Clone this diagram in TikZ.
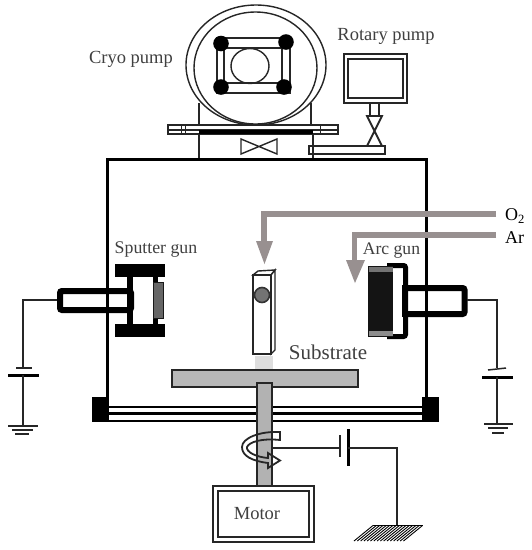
\documentclass[tikz,border=0pt]{standalone}
\usepackage{fontspec}
\setmainfont{Liberation Serif}
\tikzset{
  lbl/.style={text=black!75,inner sep=0pt,font=\fontsize{18.5}{20}\selectfont},
  gaslbl/.style={text=black,inner sep=0pt,font=\fontsize{18}{20}\selectfont,anchor=west},
  thinl/.style={draw=black!85,line width=1.4pt},
  wire/.style={draw=black!85,line width=1.3pt},
  wall/.style={draw=black,line width=3pt},
  gas/.style={draw=gasc,line width=5.5pt},
  gashead/.style={fill=gasc,draw=none},
  plate/.style={draw=black,line width=3pt},
  plthin/.style={draw=black!85,line width=1.5pt},
}
\definecolor{gasc}{HTML}{989090}
\begin{document}
\begin{tikzpicture}[x=1pt,y=-1pt]
\useasboundingbox[fill=white] (0,0) rectangle (532,550);

% --- pumps top
\draw[thinl] (199,103) -- (199,125);
\draw[thinl] (311,103) -- (311,125);
\draw[thinl,fill=white] (256,65) ellipse [x radius=70,y radius=60];
\draw[thinl] (255.5,68) ellipse [x radius=61.5,y radius=56];
\draw[thinl,line width=1.6pt] (217,38) rectangle (290,93);
\draw[thinl,line width=1.6pt] (224,48) rectangle (282,83);
\draw[thinl] (250,66) ellipse [x radius=19,y radius=17.5];
\fill[black] (221,43.5) circle [radius=7.8];
\fill[black] (286,42) circle [radius=7.8];
\fill[black] (221,87) circle [radius=7.8];
\fill[black] (284,87) circle [radius=7.8];

% flange
\draw[thinl,fill=white] (168,125) rectangle (338,134);
\draw[thinl,line width=1.1pt] (168,130) -- (338,130);
\draw[thinl,line width=1pt] (181,125) -- (181,134) (185,125) -- (185,134) (320,125) -- (320,134);
\fill[black] (199,130) rectangle (313,134);
\draw[thinl] (199,134) -- (199,161);
\draw[thinl] (313,134) -- (313,161);
\draw[thinl] (241,139) -- (277,154) -- (277,139) -- (241,154) -- cycle;

% rotary pump
\draw[thinl,line width=1.6pt] (344,54) rectangle (407,103);
\draw[thinl,line width=1.6pt] (348,59) rectangle (403,98);
\draw[thinl,line width=1.6pt] (370,103) rectangle (379,116);
\draw[thinl,line width=1.8pt] (367,116) -- (382,116) -- (367,146) -- (382,146) -- cycle;
\draw[thinl] (309,146) rectangle (385,154);

% --- chamber
\draw[wall] (107,397) -- (107,159) -- (426,159) -- (426,397);
\draw[black,line width=2.6pt] (107,407) -- (424,407);
\draw[black,line width=2.6pt] (107,413.5) -- (424,413.5);
\draw[black,line width=1.4pt] (107,421) -- (424,421);
\fill[black] (92,397) rectangle (109,421.5);
\fill[black] (422,397) rectangle (439,421.5);

% --- sputter gun
\fill[black] (115,264) rectangle (165,277);
\fill[black] (115,324) rectangle (165,337);
\fill[black] (127,277) rectangle (133,324);
\fill[black] (153,277) rectangle (158,283);
\fill[black] (153,318) rectangle (158,324);
\draw[draw=black!90,fill=black!60,line width=1pt] (153,282) rectangle (163,318);
\draw[black,line width=6pt,rounded corners=2pt] (60,291) -- (131,291) -- (131,310) -- (60,310) -- cycle;
\draw[wire] (57,300) -- (23,300) -- (23,367);
\draw[plthin] (16,368) -- (32,368);
\draw[plate] (8,375) -- (39,375);
\draw[wire] (23,375) -- (23,426);
\draw[plthin] (8,426) -- (38,426);
\draw[plthin] (12,430) -- (33,430);
\draw[plthin] (15,434) -- (29,434);

% --- arc gun
\draw[black,line width=5pt,rounded corners=2pt] (387,265.5) -- (405.5,265.5) -- (405.5,336.5) -- (387,336.5);
\fill[black!92] (368,266) rectangle (393,337);
\fill[black!55] (369,267) rectangle (393,271.5);
\fill[black!45] (369,331) rectangle (393,336);
\draw[black,line width=6pt,rounded corners=2pt] (405,288) -- (464.5,288) -- (464.5,314) -- (405,314);
\draw[black,line width=6pt] (405,285) -- (405,317);
\draw[wire] (467,300) -- (497,300) -- (497,368);
\draw[plthin] (488,370) -- (506,368);
\draw[plate] (482,377) -- (513,377);
\draw[wire] (497,377) -- (497,423);
\draw[plthin] (484,424) -- (513,424);
\draw[plthin] (488,428) -- (508,428);
\draw[plthin] (492,433) -- (504,433);

% --- gas lines
\draw[gas] (496,214) -- (264,214) -- (264,242);
\fill[gashead] (256,241) -- (273,241) -- (264.5,264) -- cycle;
\draw[gas] (496,235) -- (354.5,235) -- (354.5,261);
\fill[gashead] (346,260) -- (365,260) -- (355,283) -- cycle;

% --- substrate probe
\fill[black!13] (255,356) rectangle (273,371);
\draw[thinl,fill=white] (253,275) -- (258,271) -- (275,270) -- (271,275) -- cycle;
\draw[thinl,fill=white] (271,275) -- (275,270) -- (275,350) -- (271,354) -- cycle;
\draw[thinl,line width=1.8pt,fill=white] (253,275) rectangle (271,354);
\draw[black!80,line width=1.6pt,fill=black!55] (262,295) circle [radius=7.5];

% --- table, shaft, motor
\draw[thinl,fill=black!28] (172,370) rectangle (358,387);
\draw[thinl,line width=1.8pt,fill=black!30] (257,383) rectangle (272,487);
\draw[thinl,fill=white] (213,486) rectangle (314,542);
\draw[thinl] (218,491) rectangle (309,537);
\draw[thinl,line width=1.8pt] (257,383) -- (257,486.3) (272,383) -- (272,486.3);

% rotation ribbon
\draw[thinl,line width=1.8pt]
  (280,432) -- (280,440)
  .. controls (262,438) and (249,442) .. (247,447)
  .. controls (246,452) and (256,457) .. (268,458)
  -- (268,453) -- (280,460.5) -- (268,468) -- (268,463)
  .. controls (252,461) and (242,456) .. (242,447)
  .. controls (242,438) and (260,431) .. (280,432) -- cycle;

% bias
\draw[wire] (272,448) -- (340,448);
\draw[plthin] (340,435) -- (340,457);
\draw[plate] (348,429) -- (348,466);
\draw[wire] (348,448) -- (397,448) -- (397,525);
\draw[black,line width=1.2pt] (373,525.5) -- (423,525.5);
\foreach \i in {0,...,15} {
  \draw[black,line width=0.9pt] ({354+\i*3.3},541) -- ({373+\i*3.3},525.5);
}

% --- labels
\node[lbl] (cryo) at (131,59) {Cryo pump};
\node[lbl] (rotary) at (386,36) {Rotary pump};
\node[lbl,font=\fontsize{17.8}{20}\selectfont] (sputter) at (156,250) {Sputter gun};
\node[lbl,font=\fontsize{17.6}{20}\selectfont] (arc) at (391.5,251) {Arc gun};
\node[lbl,font=\fontsize{21}{22}\selectfont] (substrate) at (328,352) {Substrate};
\node[lbl] (motor) at (257,514) {Motor};
\node[gaslbl] (o2) at (505,216) {O\textsubscript{2}};
\node[gaslbl] (ar) at (505,238) {Ar};
\end{tikzpicture}
\end{document}
